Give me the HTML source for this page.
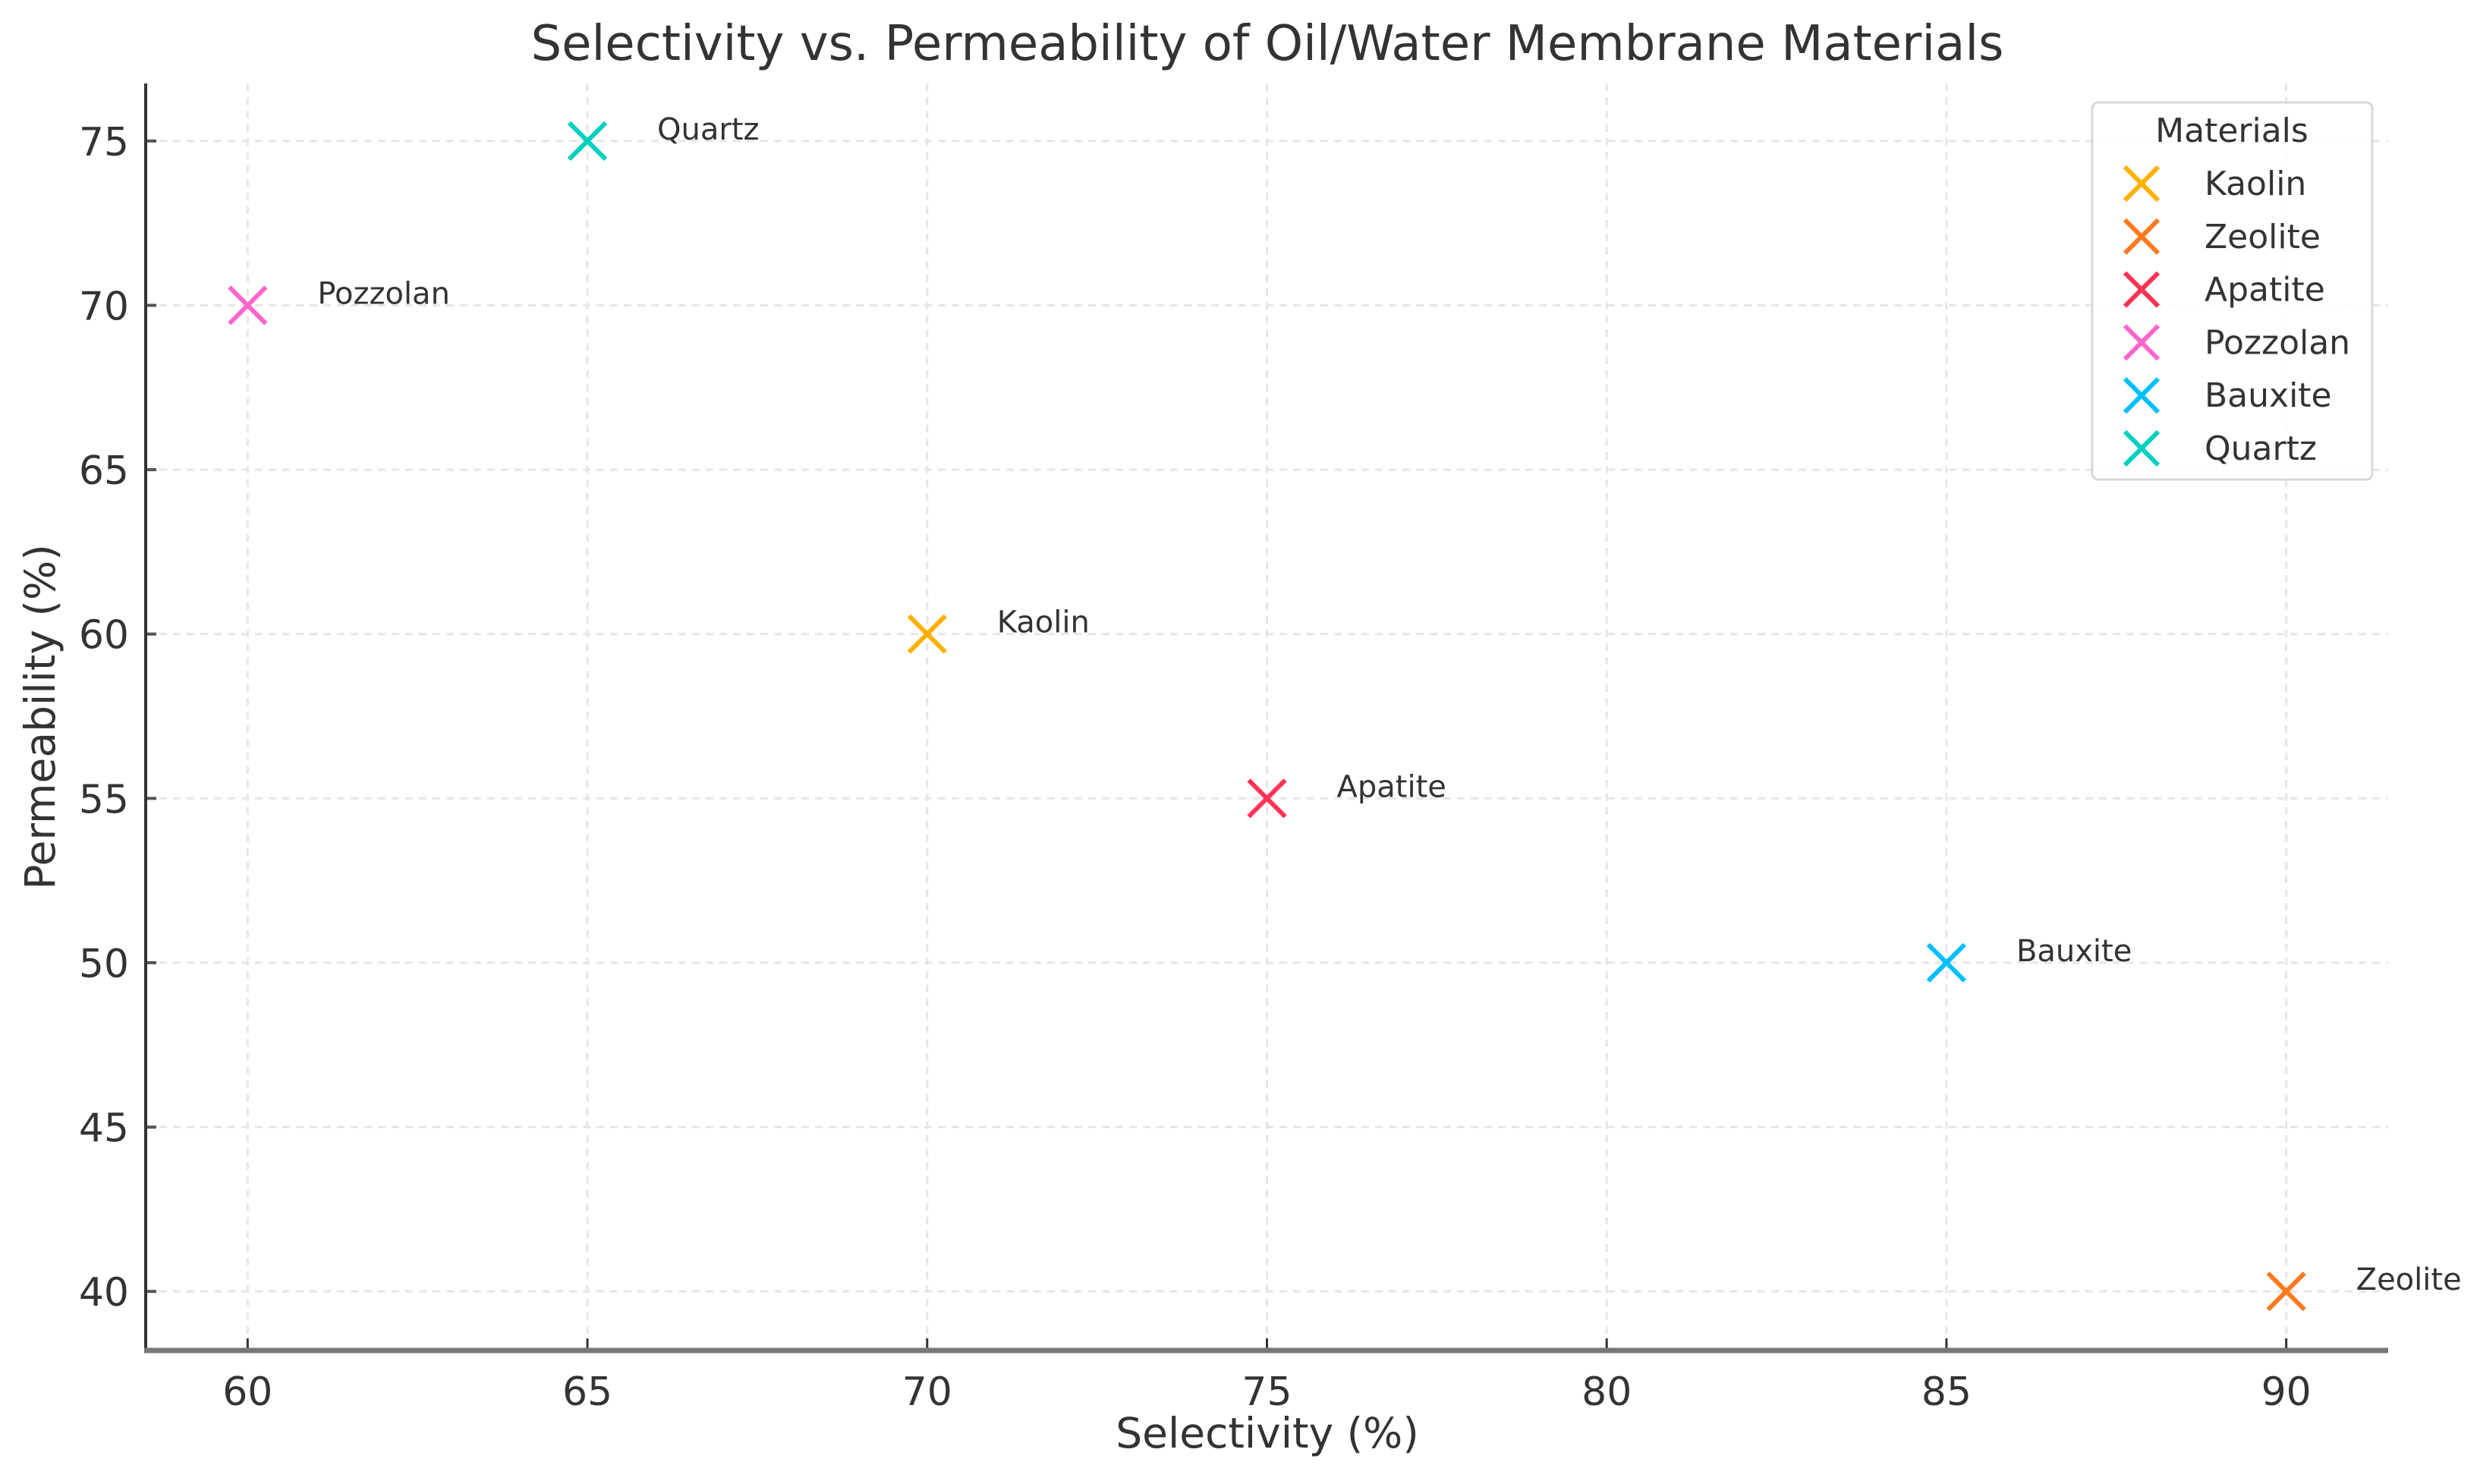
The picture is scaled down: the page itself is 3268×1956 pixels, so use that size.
<!DOCTYPE html>
<html><head><meta charset="utf-8"><style>
html,body{margin:0;padding:0;background:#fff;}
svg text{font-family:"DejaVu Sans","Liberation Sans",sans-serif;}
</style></head><body>
<svg id="chart" width="3268" height="1951" viewBox="0 0 3268 1951" xmlns="http://www.w3.org/2000/svg">
<rect width="3268" height="1951" fill="#fff"/>
<text x="1670" y="79" text-anchor="middle" font-size="64" fill="#333">Selectivity vs. Permeability of Oil/Water Membrane Materials</text>
<g id="grid"></g>
<g id="axes"></g>
<g id="marks"></g>
<text x="1670" y="1908" text-anchor="middle" font-size="55" fill="#333">Selectivity (%)</text>
<text transform="translate(72,945) rotate(-90)" text-anchor="middle" font-size="55" fill="#333">Permeability (%)</text>
<g id="legend"></g>
</svg>
<script>
const materials = ["Kaolin","Zeolite","Apatite","Pozzolan","Bauxite","Quartz"];
const selectivity = [70,90,75,60,85,65];
const permeability = [60,40,55,70,50,75];
const colors = ["#FFB000","#FF7A1F","#FF3355","#FF66CC","#00BFFF","#00D0C0"];
const xTicks = [60,65,70,75,80,85,90];
const yTicks = [40,45,50,55,60,65,70,75];

const NS="http://www.w3.org/2000/svg";
const L=192,R=3147,T=110,B=1778;
const xMin=58.5,xMax=91.5,yMin=38.25,yMax=76.75;
const xs=v=>L+(v-xMin)/(xMax-xMin)*(R-L);
const ys=v=>B-(v-yMin)/(yMax-yMin)*(B-T);
function mk(tag,attrs,parent){const e=document.createElementNS(NS,tag);for(const k in attrs)e.setAttribute(k,attrs[k]);parent.appendChild(e);return e;}
const grid=document.getElementById('grid'),axes=document.getElementById('axes'),marks=document.getElementById('marks'),legend=document.getElementById('legend');

xTicks.forEach(v=>{
  const x=xs(v);
  const g=mk('line',{x1:x,x2:x,y1:T,y2:B,stroke:'#e6e6e6','stroke-width':3,'stroke-dasharray':'10,8'},grid);
  
  
  const t=mk('line',{x1:x,x2:x,y1:B,y2:B-14,stroke:'#333','stroke-width':3},axes);
  
  
  const l=mk('text',{x:x,y:B+74,'text-anchor':'middle','font-size':52,fill:'#333'},axes);
  l.textContent=v;
  
  
});
yTicks.forEach(v=>{
  const y=ys(v);
  const g=mk('line',{x1:L,x2:R,y1:y,y2:y,stroke:'#e6e6e6','stroke-width':3,'stroke-dasharray':'10,8'},grid);
  
  
  const t=mk('line',{x1:L,x2:L+14,y1:y,y2:y,stroke:'#555','stroke-width':4},axes);
  
  
  const l=mk('text',{x:L-22,y:y+19,'text-anchor':'end','font-size':52,fill:'#333'},axes);
  l.textContent=v;
  
  
});
const ls=mk('line',{x1:L,x2:L,y1:T,y2:B,stroke:'#333','stroke-width':4},axes);


const bs=mk('line',{x1:L-2,x2:R,y1:B+2,y2:B+2,stroke:'#777','stroke-width':7},axes);



function cross(cx,cy,c,h,parent){
  const g=mk('g',{},parent);
  mk('line',{x1:cx-h,y1:cy-h,x2:cx+h,y2:cy+h,stroke:c,'stroke-width':6},g);
  mk('line',{x1:cx-h,y1:cy+h,x2:cx+h,y2:cy-h,stroke:c,'stroke-width':6},g);
  return g;
}
materials.forEach((m,i)=>{
  const cx=xs(selectivity[i]),cy=ys(permeability[i]);
  const p=cross(cx,cy,colors[i],24,marks);
  
  
  const t=mk('text',{x:cx+92,y:cy-2,'font-size':40,fill:'#333'},marks);
  t.textContent=m;
  
  
});

const box=mk('rect',{x:2757,y:135,width:369,height:497,rx:8,fill:'#fff','fill-opacity':0.85,stroke:'#d8d8d8','stroke-width':3},legend);


const lt=mk('text',{x:2941,y:187,'text-anchor':'middle','font-size':44,fill:'#333'},legend);
lt.textContent='Materials';


materials.forEach((m,i)=>{
  const y=242+i*69.8;
  const e=mk('g',{},legend);
  
  
  cross(2822,y,colors[i],22,e);
  const t=mk('text',{x:2905,y:y+15,'font-size':44,fill:'#333'},e);
  t.textContent=m;
});
</script>
</body></html>
